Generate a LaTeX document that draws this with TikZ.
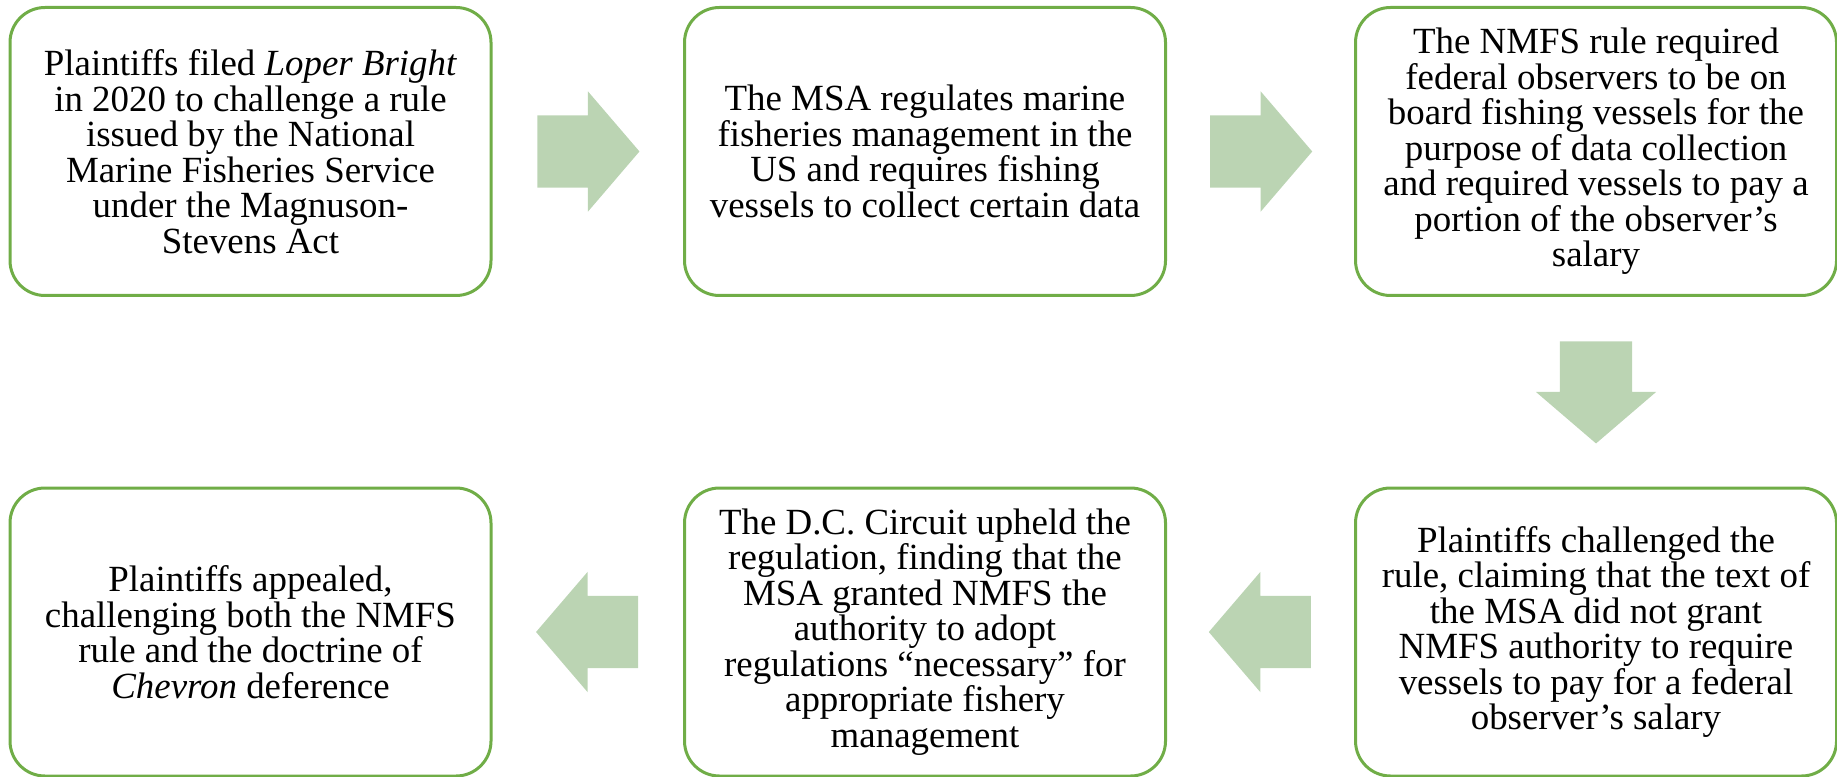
\documentclass[tikz,border=0pt]{standalone}
\usepackage{fontspec}
\setmainfont{Liberation Serif}
\usetikzlibrary{shapes.arrows, calc}
\definecolor{boxgreen}{HTML}{70AD47}
\definecolor{arrowgreen}{HTML}{BBD4B3}

\begin{document}
\begin{tikzpicture}[
		stepbox/.style={rectangle, rounded corners=0.35cm, draw=boxgreen, line width=0.03cm,
			minimum width=4.81cm, minimum height=2.88cm, inner sep=0pt, align=center,
			font=\fontsize{10.5}{10.1}\selectfont},
		blockarrow/.style={single arrow, fill=arrowgreen, draw=none, inner xsep=0pt,
			inner ysep=0.355cm, minimum height=1.02cm, anchor=tail,
			single arrow head extend=0.24cm, single arrow tip angle=98.8}
	]
  \useasboundingbox (0,0) rectangle (18.37,-7.77);
  % top row
  \node (b1) [stepbox] at (2.505,-1.515) {Plaintiffs filed \textit{Loper Bright}\\ in 2020 to challenge a rule\\ issued by the National\\ Marine Fisheries Service\\ under the Magnuson-\\ Stevens Act};
  \node (b2) [stepbox] at (9.25,-1.515) {The MSA regulates marine\\ fisheries management in the\\ US and requires fishing\\ vessels to collect certain data};
  \node (b3) [stepbox] at (15.96,-1.515) {The NMFS rule required\\ federal observers to be on\\ board fishing vessels for the\\ purpose of data collection\\ and required vessels to pay a\\ portion of the observer’s\\ salary};
  % bottom row
  \node (b4) [stepbox] at (15.96,-6.32) {Plaintiffs challenged the\\ rule, claiming that the text of\\ the MSA did not grant\\ NMFS authority to require\\ vessels to pay for a federal\\ observer’s salary};
  \node (b5) [stepbox] at (9.25,-6.32) {The D.C. Circuit upheld the\\ regulation, finding that the\\ MSA granted NMFS the\\ authority to adopt\\ regulations “necessary” for\\ appropriate fishery\\ management};
  \node (b6) [stepbox] at (2.505,-6.32) {Plaintiffs appealed,\\ challenging both the NMFS\\ rule and the doctrine of\\ \textit{Chevron} deference};
  % arrows, tail put half a length before the gap middle
  \node (a12) [blockarrow] at ($(b1.east)!0.5!(b2.west)+(-0.51,0)$) {};
  \node (a23) [blockarrow] at ($(b2.east)!0.5!(b3.west)+(-0.51,0)$) {};
  \node (a34) [blockarrow, rotate=-90] at ($(b3.south)!0.5!(b4.north)+(0,0.51)$) {};
  \node (a45) [blockarrow, rotate=180] at ($(b4.west)!0.5!(b5.east)+(0.51,0)$) {};
  \node (a56) [blockarrow, rotate=180] at ($(b5.west)!0.5!(b6.east)+(0.51,0)$) {};
\end{tikzpicture}
\end{document}
